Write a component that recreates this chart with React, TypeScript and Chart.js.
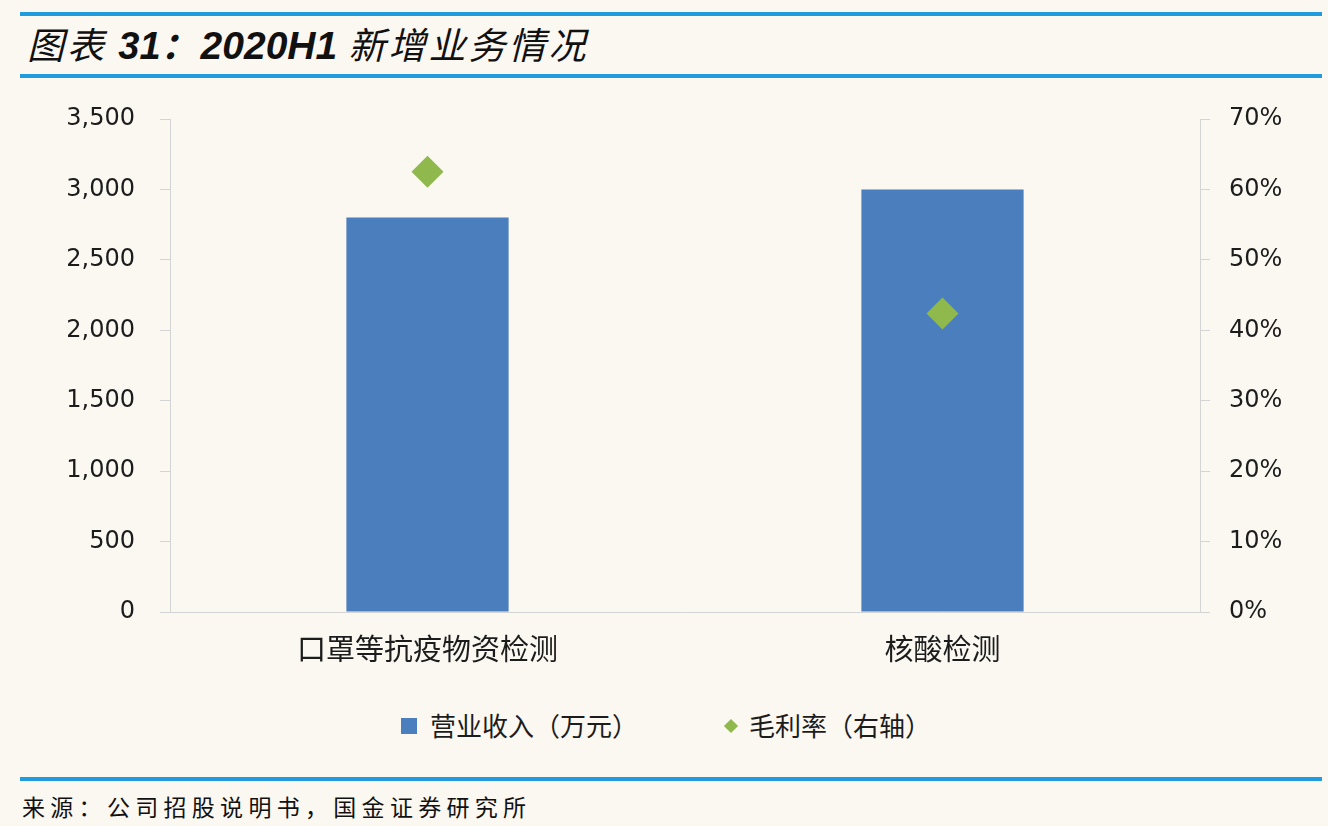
import React, { useEffect, useRef } from "react";
import { Chart, registerables } from "chart.js";

Chart.register(...registerables);

const categories: string[] = ["口罩等抗疫物资检测", "核酸检测"];
const revenue: number[] = [2800, 3000];
const grossMargin: number[] = [62.5, 42.4];
const seriesLabels: string[] = ["营业收入（万元）", "毛利率（右轴）"];
const leftTicks = { min: 0, max: 3500, step: 500 };
const rightTicks = { min: 0, max: 70, step: 10 };

const BLUE = "#4A7EBD";
const GREEN = "#8FB94C";
const AXIS = "#D4D4D4";
const TEXT = "#1C1C1C";
const BG = "#FBF7F1";
const LINE = "#1F9BDE";

export default function App() {
  const ref = useRef<HTMLCanvasElement | null>(null);

  useEffect(() => {
    if (!ref.current) return;
    const chart = new Chart(ref.current, {
      type: "bar",
      data: {
        labels: categories,
        datasets: [
          {
            type: "line",
            label: seriesLabels[1],
            data: grossMargin,
            yAxisID: "y1",
            showLine: false,
            pointStyle: "rectRot",
            pointRadius: 16,
            pointHoverRadius: 16,
            pointBackgroundColor: GREEN,
            pointBorderColor: GREEN,
            pointBorderWidth: 0,
            backgroundColor: GREEN,
            borderColor: GREEN,
            order: 1,
          } as any,
          {
            type: "bar",
            label: seriesLabels[0],
            data: revenue,
            yAxisID: "y",
            backgroundColor: BLUE,
            borderWidth: 0,
            barPercentage: 0.315,
            categoryPercentage: 1,
            order: 2,
          },
        ],
      },
      options: {
        animation: false,
        responsive: false,
        maintainAspectRatio: false,
        layout: { padding: { top: 29, left: 0, right: 0, bottom: 0 } },
        plugins: {
          legend: { display: false },
          tooltip: { enabled: false },
          title: { display: false },
        },
        scales: {
          x: {
            type: "category",
            offset: true,
            grid: { display: false, drawTicks: false },
            border: { display: true, color: AXIS, width: 1 },
            ticks: {
              color: TEXT,
              font: { family: "'Noto Sans CJK SC', 'Noto Sans'", size: 29 },
              padding: 20,
              maxRotation: 0,
            },
            afterFit: (scale: any) => {
              scale.height = 88;
            },
          },
          y: {
            type: "linear",
            position: "left",
            min: leftTicks.min,
            max: leftTicks.max,
            grid: {
              display: true,
              drawOnChartArea: false,
              drawTicks: true,
              tickLength: 10,
              color: AXIS,
            },
            border: { display: true, color: AXIS, width: 1 },
            ticks: {
              stepSize: leftTicks.step,
              color: TEXT,
              padding: 25,
              crossAlign: "near",
              font: { family: "'DejaVu Sans'", size: 24 },
              callback: (v: any) => Number(v).toLocaleString("en-US"),
            },
            afterFit: (scale: any) => {
              scale.width = 170;
              scale.paddingTop = 0;
              scale.paddingBottom = 0;
            },
          },
          y1: {
            type: "linear",
            position: "right",
            min: rightTicks.min,
            max: rightTicks.max,
            grid: {
              display: true,
              drawOnChartArea: false,
              drawTicks: true,
              tickLength: 10,
              color: AXIS,
            },
            border: { display: true, color: AXIS, width: 1 },
            ticks: {
              stepSize: rightTicks.step,
              color: TEXT,
              padding: 19,
              crossAlign: "near",
              font: { family: "'DejaVu Sans'", size: 24 },
              callback: (v: any) => Math.round(Number(v)) + "%",
            },
            afterFit: (scale: any) => {
              scale.width = 128;
              scale.paddingTop = 0;
              scale.paddingBottom = 0;
            },
          },
        },
      },
    });
    return () => chart.destroy();
  }, []);

  const legendItems = [
    { label: seriesLabels[0], kind: "rect", color: BLUE },
    { label: seriesLabels[1], kind: "diamond", color: GREEN },
  ];

  return (
    <div
      style={{
        position: "absolute",
        left: 0,
        top: 0,
        width: 1328,
        height: 826,
        background: BG,
        overflow: "hidden",
        fontFamily: "'Noto Sans CJK SC', 'Noto Sans', sans-serif",
      }}
    >
      <div style={{ position: "absolute", left: 20, width: 1302, top: 12, height: 4, background: LINE }} />
      <div
        style={{
          position: "absolute",
          left: 27,
          top: 23,
          height: 40,
          lineHeight: "40px",
          fontSize: 37,
          fontStyle: "italic",
          color: "#111",
          whiteSpace: "nowrap",
          letterSpacing: 3,
        }}
      >
        <span>图表 </span>
        <span style={{ fontFamily: "'Liberation Sans', sans-serif", fontWeight: 700, letterSpacing: 0, fontSize: 38 }}>31</span>
        <span style={{ fontWeight: 700 }}>：</span>
        <span style={{ fontFamily: "'Liberation Sans', sans-serif", fontWeight: 700, letterSpacing: 0, fontSize: 39 }}>2020H1</span>
        <span> 新增业务情况</span>
      </div>
      <div style={{ position: "absolute", left: 20, width: 1302, top: 74, height: 4, background: LINE }} />

      <canvas
        ref={ref}
        width={1328}
        height={610}
        style={{ position: "absolute", left: 0, top: 90, width: 1328, height: 610 }}
      />

      <div
        style={{
          position: "absolute",
          left: 401,
          top: 706,
          height: 36,
          display: "flex",
          alignItems: "center",
          gap: 86,
          fontSize: 26,
          color: TEXT,
          whiteSpace: "nowrap",
        }}
      >
        {legendItems.map((it) => (
          <div key={it.label} style={{ display: "flex", alignItems: "center" }}>
            {it.kind === "rect" ? (
              <div style={{ width: 16, height: 16, background: it.color, marginRight: 13, marginTop: 4 }} />
            ) : (
              <div
                style={{
                  width: 10,
                  height: 10,
                  background: it.color,
                  transform: "rotate(45deg)",
                  marginLeft: 2,
                  marginRight: 13,
                  marginTop: 4,
                }}
              />
            )}
            <span>{it.label}</span>
          </div>
        ))}
      </div>

      <div style={{ position: "absolute", left: 20, width: 1302, top: 777, height: 4, background: LINE }} />
      <div
        style={{
          position: "absolute",
          left: 22,
          top: 792,
          lineHeight: "28px",
          fontSize: 23,
          letterSpacing: 5.3,
          color: "#111",
          whiteSpace: "nowrap",
        }}
      >
        来源：公司招股说明书，国金证券研究所
      </div>
    </div>
  );
}
